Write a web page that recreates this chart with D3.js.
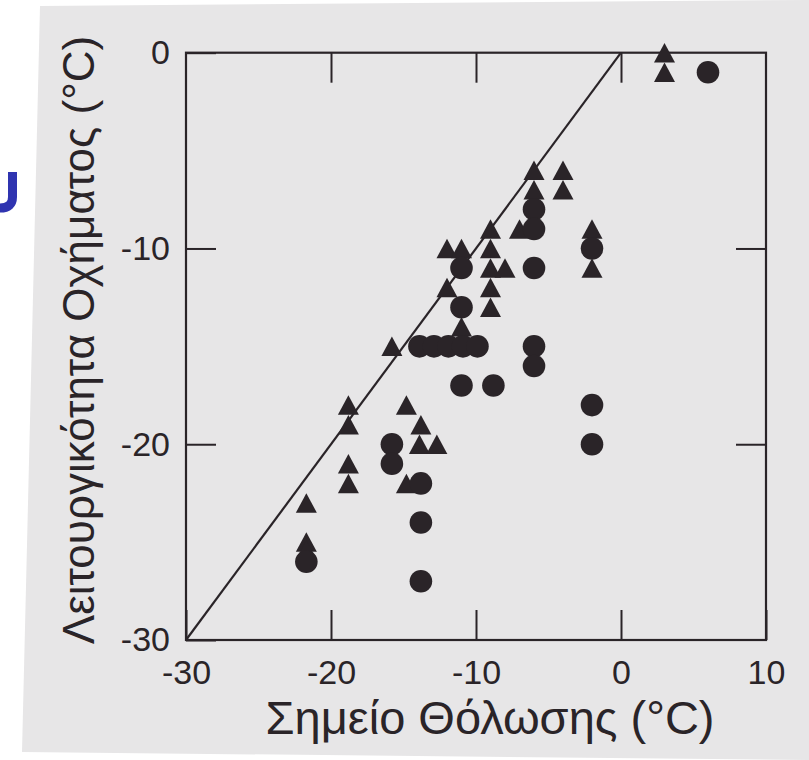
<!DOCTYPE html>
<html>
<head>
<meta charset="utf-8">
<script src="https://cdn.jsdelivr.net/npm/d3@7"></script>
<style>
  html, body { margin: 0; padding: 0; background: #ffffff; }
  svg { display: block; }
</style>
</head>
<body>
<svg id="chart" width="809" height="760"></svg>
<script>
// Tick values
const xTickValues = [-30, -20, -10, 0, 10];
const yTickValues = [-30, -20, -10, 0];
const xInnerTicks = [-20, -10, 0];
const yInnerTicks = [-20, -10];

// Cloud point (x) vs. operability temperature (y), in °C
const triangleSeries = [
  [3, 0], [3, -1],
  [-6, -6], [-4, -6], [-4, -7], [-6, -7],
  [-7, -9], [-2, -9], [-2, -11],
  [-12, -10], [-11, -10],
  [-9, -9], [-9, -10], [-9, -11], [-8, -11], [-9, -12], [-9, -13],
  [-12, -12], [-11, -14],
  [-15.8, -15], [-14.8, -18],
  [-18.8, -18], [-18.8, -19], [-18.8, -21], [-18.8, -22],
  [-21.7, -23], [-21.7, -25], [-21.7, -25.4],
  [-13.8, -19], [-13.9, -20], [-12.7, -20],
  [-14.8, -22]
];
const circleSeries = [
  [6, -1],
  [-6, -8], [-6, -9], [-2, -10],
  [-11, -11], [-6, -11], [-11, -13],
  [-13.9, -15], [-12.9, -15], [-11.9, -15], [-10.9, -15], [-9.9, -15],
  [-6, -15], [-6, -16],
  [-11, -17], [-8.8, -17],
  [-2, -18], [-2, -20],
  [-15.8, -20], [-15.8, -21],
  [-13.8, -22], [-13.8, -24], [-13.8, -27],
  [-21.7, -26]
];
// y = x reference line
const parityLine = [[-30, -30], [0, 0]];

const xTitle = "Σημείο Θόλωσης (°C)";
const yTitle = "Λειτουργικότητα Οχήματος (°C)";

const ink = "#2a2428";
const font = "'Liberation Sans', Arial, sans-serif";

const svg = d3.select("#chart");

// scanned page area
svg.append("polygon")
  .attr("points", "40,6 809,0 809,760 22,752")
  .attr("fill", "#e7e6e7");

// blue stroke fragment at the left margin
svg.append("path")
  .attr("d", "M12.5,172 L12.5,197 Q12.5,208 0,208")
  .attr("fill", "none")
  .attr("stroke", "#2f34b0")
  .attr("stroke-width", 9);

const x = d3.scaleLinear().domain([-30, 10]).range([186, 766]);
const y = d3.scaleLinear().domain([-30, 0]).range([640, 52.7]);

function styleAxis(g, fontSize) {
  g.select(".domain").remove();
  g.selectAll(".tick line").attr("stroke", ink).attr("stroke-width", 2);
  g.selectAll(".tick text")
    .attr("fill", ink)
    .attr("font-family", font)
    .attr("font-size", fontSize);
}
const fmt = d => String(d);

svg.append("g")
  .attr("transform", `translate(0,${y(-30)})`)
  .call(d3.axisBottom(x).tickValues(xTickValues).tickSize(-30).tickPadding(20).tickFormat(fmt))
  .call(g => styleAxis(g, 34));

svg.append("g")
  .attr("transform", `translate(0,${y(0)})`)
  .call(d3.axisTop(x).tickValues(xInnerTicks).tickSize(-30).tickFormat(""))
  .call(g => styleAxis(g, 34));

svg.append("g")
  .attr("transform", `translate(${x(-30)},0)`)
  .call(d3.axisLeft(y).tickValues(yTickValues).tickSize(-30).tickPadding(16).tickFormat(fmt))
  .call(g => styleAxis(g, 34));

svg.append("g")
  .attr("transform", `translate(${x(10)},0)`)
  .call(d3.axisRight(y).tickValues(yInnerTicks).tickSize(-30).tickFormat(""))
  .call(g => styleAxis(g, 34));

// plot frame
svg.append("rect")
  .attr("x", x(-30)).attr("y", y(0))
  .attr("width", x(10) - x(-30)).attr("height", y(-30) - y(0))
  .attr("fill", "none").attr("stroke", ink).attr("stroke-width", 2.2);

// parity line
svg.append("path")
  .datum(parityLine)
  .attr("d", d3.line().x(d => x(d[0])).y(d => y(d[1])))
  .attr("fill", "none").attr("stroke", ink).attr("stroke-width", 2.2);

// triangle centred on its bounding box
const boxTriangle = {
  draw(ctx, size) {
    const w = 21, h = 19.5;
    ctx.moveTo(0, -h / 2);
    ctx.lineTo(w / 2, h / 2);
    ctx.lineTo(-w / 2, h / 2);
    ctx.closePath();
  }
};

svg.append("g").selectAll("path")
  .data(triangleSeries)
  .join("path")
  .attr("transform", d => `translate(${x(d[0])},${y(d[1])})`)
  .attr("d", d3.symbol().type(boxTriangle).size(200))
  .attr("fill", ink);

svg.append("g").selectAll("circle")
  .data(circleSeries)
  .join("circle")
  .attr("cx", d => x(d[0])).attr("cy", d => y(d[1]))
  .attr("r", 11.3)
  .attr("fill", ink);

// axis titles
svg.append("text")
  .attr("x", 490).attr("y", 734)
  .attr("text-anchor", "middle")
  .attr("font-family", font)
  .attr("font-size", 47)
  .attr("fill", ink)
  .text(xTitle);

svg.append("text")
  .attr("transform", "translate(94,340) rotate(-90)")
  .attr("text-anchor", "middle")
  .attr("font-family", font)
  .attr("font-size", 44)
  .attr("fill", ink)
  .text(yTitle);
</script>
</body>
</html>
